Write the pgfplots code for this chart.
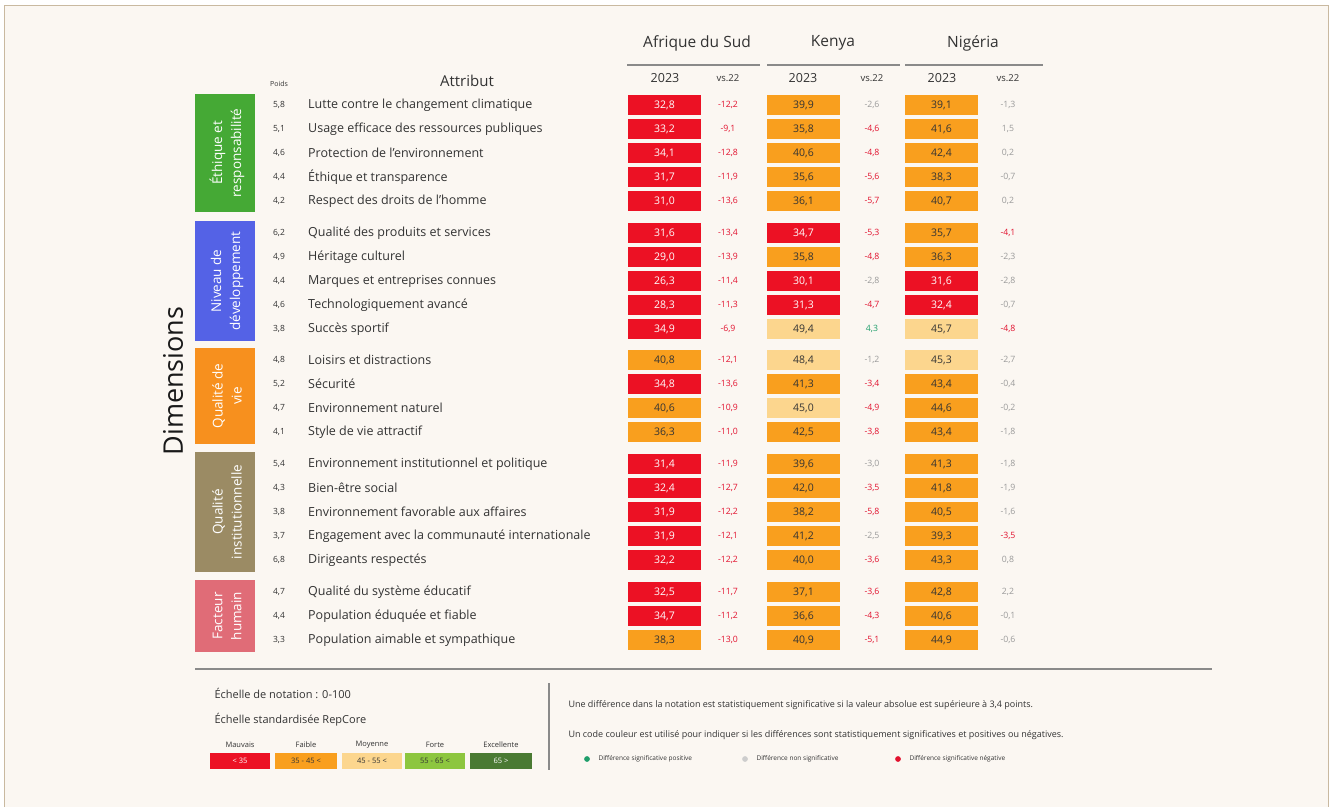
\documentclass[border=0pt]{standalone}
\usepackage{pgfplots}
\pgfplotsset{compat=1.18}
\usepackage{pgfplotstable}
\usepackage{fontspec}
\setmainfont{Open Sans}

\definecolor{bg}{HTML}{FBF7F2}
\definecolor{frame}{HTML}{C9B9A0}
\definecolor{cred}{HTML}{EC1124}
\definecolor{corange}{HTML}{F99F1E}
\definecolor{clight}{HTML}{FCD68E}
\definecolor{cgreen}{HTML}{8DC63F}
\definecolor{cdkgreen}{HTML}{4A7A33}
\definecolor{gEth}{HTML}{45A935}
\definecolor{gNiv}{HTML}{5462E6}
\definecolor{gQual}{HTML}{F7901E}
\definecolor{gInst}{HTML}{9B8B64}
\definecolor{gHum}{HTML}{E06C77}
\definecolor{txt}{HTML}{333333}
\definecolor{negred}{HTML}{E2122F}
\definecolor{posgreen}{HTML}{1F9E6B}
\definecolor{nsgrey}{HTML}{9A9A9A}
\definecolor{rulec}{HTML}{8A8A8A}

% y = row position (px), w = poids, scores and change vs 2022 per country
\pgfplotstableread[col sep=comma]{
y,w,attr,sa,sad,ke,ked,ng,ngd
105,5.8,Lutte contre le changement climatique,32.8,-12.2,39.9,-2.6,39.1,-1.3
129,5.1,Usage efficace des ressources publiques,33.2,-9.1,35.8,-4.6,41.6,1.5
153,4.6,Protection de l'environnement,34.1,-12.8,40.6,-4.8,42.4,0.2
177,4.4,Éthique et transparence,31.7,-11.9,35.6,-5.6,38.3,-0.7
201,4.2,Respect des droits de l'homme,31.0,-13.6,36.1,-5.7,40.7,0.2
233,6.2,Qualité des produits et services,31.6,-13.4,34.7,-5.3,35.7,-4.1
257,4.9,Héritage culturel,29.0,-13.9,35.8,-4.8,36.3,-2.3
281,4.4,Marques et entreprises connues,26.3,-11.4,30.1,-2.8,31.6,-2.8
305,4.6,Technologiquement avancé,28.3,-11.3,31.3,-4.7,32.4,-0.7
329,3.8,Succès sportif,34.9,-6.9,49.4,4.3,45.7,-4.8
360,4.8,Loisirs et distractions,40.8,-12.1,48.4,-1.2,45.3,-2.7
384,5.2,Sécurité,34.8,-13.6,41.3,-3.4,43.4,-0.4
408,4.7,Environnement naturel,40.6,-10.9,45.0,-4.9,44.6,-0.2
432,4.1,Style de vie attractif,36.3,-11.0,42.5,-3.8,43.4,-1.8
464,5.4,Environnement institutionnel et politique,31.4,-11.9,39.6,-3.0,41.3,-1.8
488,4.3,Bien-être social,32.4,-12.7,42.0,-3.5,41.8,-1.9
512,3.8,Environnement favorable aux affaires,31.9,-12.2,38.2,-5.8,40.5,-1.6
536,3.7,Engagement avec la communauté internationale,31.9,-12.1,41.2,-2.5,39.3,-3.5
560,6.8,Dirigeants respectés,32.2,-12.2,40.0,-3.6,43.3,0.8
592,4.7,Qualité du système éducatif,32.5,-11.7,37.1,-3.6,42.8,2.2
616,4.4,Population éduquée et fiable,34.7,-11.2,36.6,-4.3,40.6,-0.1
640,3.3,Population aimable et sympathique,38.3,-13.0,40.9,-5.1,44.9,-0.6
}\data

\pgfplotsset{
  cell/.style={only marks, mark=none,
    nodes near coords={\pgfmathprintnumber[fixed,fixed zerofill,precision=1,use comma,assume math mode=true]{\pgfplotspointmeta}},
    every node near coord/.append style={anchor=center, inner sep=0pt,
      minimum width=73pt, minimum height=20pt, font=\fontsize{10.5}{12}\selectfont}},
  diff/.style={only marks, mark=none,
    nodes near coords={\pgfmathprintnumber[fixed,fixed zerofill,precision=1,use comma,assume math mode=true]{\pgfplotspointmeta}},
    every node near coord/.append style={anchor=center, inner sep=0pt,
      font=\fontsize{8.7}{10}\selectfont}},
}

% score cells by RepCore class, one column
\newcommand\cells[2]{%
  \addplot[cell, every node near coord/.append style={fill=cred, text=white},
    point meta=\thisrow{#1}, restrict expr to domain={\thisrow{#1}}{0:34.95}]
    table[x expr=#2, y=y] {\data};
  \addplot[cell, every node near coord/.append style={fill=corange, text=txt},
    point meta=\thisrow{#1}, restrict expr to domain={\thisrow{#1}}{34.95:44.95}]
    table[x expr=#2, y=y] {\data};
  \addplot[cell, every node near coord/.append style={fill=clight, text=txt},
    point meta=\thisrow{#1}, restrict expr to domain={\thisrow{#1}}{44.95:54.95}]
    table[x expr=#2, y=y] {\data};
}
% change vs 2022, coloured by significance
\newcommand\diffs[2]{%
  \addplot[diff, every node near coord/.append style={text=negred},
    point meta=\thisrow{#1}, restrict expr to domain={\thisrow{#1}}{-100:-3.25}]
    table[x expr=#2, y=y] {\data};
  \addplot[diff, every node near coord/.append style={text=nsgrey},
    point meta=\thisrow{#1}, restrict expr to domain={\thisrow{#1}}{-3.25:3.25}]
    table[x expr=#2, y=y] {\data};
  \addplot[diff, every node near coord/.append style={text=posgreen},
    point meta=\thisrow{#1}, restrict expr to domain={\thisrow{#1}}{3.25:100}]
    table[x expr=#2, y=y] {\data};
}

\begin{document}
\begin{tikzpicture}
\begin{axis}[
    scale only axis,
    width=1331pt, height=807pt,
    xmin=0, xmax=1331, ymin=0, ymax=807,
    y dir=reverse,
    hide axis,
    clip=false,
]
% background and frame
\fill[white] (axis cs:0,0) rectangle (axis cs:1331,807);
\fill[bg] (axis cs:4,6) rectangle (axis cs:1328,807);
\draw[frame, line width=1pt] (axis cs:4,807) -- (axis cs:4,6) -- (axis cs:1328,6) -- (axis cs:1328,807);

% column headers
\node[font=\fontsize{15.5}{17}\selectfont, text=txt] at (axis cs:697,43) {Afrique du Sud};
\node[font=\fontsize{15.5}{17}\selectfont, text=txt] at (axis cs:833,43) {Kenya};
\node[font=\fontsize{15.5}{17}\selectfont, text=txt] at (axis cs:973,43) {Nigéria};
\draw[rulec, line width=1.2pt] (axis cs:627,65) -- (axis cs:760,65);
\draw[rulec, line width=1.2pt] (axis cs:767,65) -- (axis cs:900,65);
\draw[rulec, line width=1.2pt] (axis cs:905,65) -- (axis cs:1043,65);
\node[font=\fontsize{12.5}{14}\selectfont, text=txt] at (axis cs:665,78) {2023};
\node[font=\fontsize{12.5}{14}\selectfont, text=txt] at (axis cs:803,78) {2023};
\node[font=\fontsize{12.5}{14}\selectfont, text=txt] at (axis cs:942,78) {2023};
\node[font=\fontsize{9.5}{11}\selectfont, text=txt] at (axis cs:728,78) {vs.22};
\node[font=\fontsize{9.5}{11}\selectfont, text=txt] at (axis cs:872,78) {vs.22};
\node[font=\fontsize{9.5}{11}\selectfont, text=txt] at (axis cs:1008,78) {vs.22};
\node[font=\fontsize{15}{17}\selectfont, text=txt] at (axis cs:467,81) {Attribut};
\node[font=\fontsize{7}{8}\selectfont, text=txt] at (axis cs:279,84) {Poids};

% dimension boxes
\fill[gEth]  (axis cs:195,94)  rectangle (axis cs:255,212);
\fill[gNiv]  (axis cs:195,221) rectangle (axis cs:255,341);
\fill[gQual] (axis cs:195,348) rectangle (axis cs:255,444);
\fill[gInst] (axis cs:195,452) rectangle (axis cs:255,572);
\fill[gHum]  (axis cs:195,580) rectangle (axis cs:255,652);
\begin{scope}[every node/.style={rotate=90, text=white, align=center,
    font=\fontsize{13.5}{19}\selectfont}]
\node at (axis cs:227,153) {Éthique et\\responsabilité};
\node at (axis cs:227,281) {Niveau de\\développement};
\node at (axis cs:227,396) {Qualité de\\vie};
\node at (axis cs:227,512) {Qualité\\institutionnelle};
\node at (axis cs:227,616) {Facteur\\humain};
\end{scope}
\node[rotate=90, font=\fontsize{27}{29}\selectfont, text=black!90] at (axis cs:173,381) {Dimensions};

% weights and attributes
\addplot[only marks, mark=none, point meta=\thisrow{w},
  nodes near coords={\pgfmathprintnumber[fixed,fixed zerofill,precision=1,use comma,assume math mode=true]{\pgfplotspointmeta}},
  every node near coord/.append style={anchor=center, text=txt, font=\fontsize{8.5}{10}\selectfont}]
  table[x expr=279, y=y] {\data};
\addplot[only marks, mark=none, point meta=explicit symbolic,
  nodes near coords={\pgfplotspointmeta},
  every node near coord/.append style={anchor=west, inner sep=0pt, text=txt, font=\fontsize{12.5}{14}\selectfont}]
  table[x expr=308, y=y, meta=attr] {\data};

% scores and changes
\cells{sa}{664.5}
\cells{ke}{803.5}
\cells{ng}{941.5}
\diffs{sad}{728}
\diffs{ked}{872}
\diffs{ngd}{1008}

% footer
\draw[rulec, line width=1.2pt] (axis cs:195,669) -- (axis cs:1212,669);
\draw[rulec, line width=1.2pt] (axis cs:549,683) -- (axis cs:549,770);
\node[anchor=west, font=\fontsize{11}{13}\selectfont, text=txt] at (axis cs:211,693) {Échelle de notation : 0-100};
\node[anchor=west, font=\fontsize{11}{13}\selectfont, text=txt] at (axis cs:211,720) {Échelle standardisée RepCore};
\fill[cred]     (axis cs:210,753) rectangle (axis cs:270,769);
\fill[corange]  (axis cs:275,753) rectangle (axis cs:337,769);
\fill[clight]   (axis cs:342,753) rectangle (axis cs:402,769);
\fill[cgreen]   (axis cs:405,753) rectangle (axis cs:465,769);
\fill[cdkgreen] (axis cs:470,753) rectangle (axis cs:532,769);
\begin{scope}[every node/.style={font=\fontsize{7.5}{9}\selectfont, inner sep=0pt}]
\node[text=white] at (axis cs:240,761) {< 35};
\node[text=txt]   at (axis cs:306,761) {35 - 45 <};
\node[text=txt]   at (axis cs:372,761) {45 - 55 <};
\node[text=txt]   at (axis cs:435,761) {55 - 65 <};
\node[text=white] at (axis cs:501,761) {65 >};
\node[text=txt] at (axis cs:240,745) {Mauvais};
\node[text=txt] at (axis cs:306,745) {Faible};
\node[text=txt] at (axis cs:372,745) {Moyenne};
\node[text=txt] at (axis cs:435,745) {Forte};
\node[text=txt] at (axis cs:501,745) {Excellente};
\end{scope}
\node[anchor=west, font=\fontsize{9}{11}\selectfont, text=txt] at (axis cs:565,705)
  {Une différence dans la notation est statistiquement significative si la valeur absolue est supérieure à 3,4 points.};
\node[anchor=west, font=\fontsize{9}{11}\selectfont, text=txt] at (axis cs:565,735)
  {Un code couleur est utilisé pour indiquer si les différences sont statistiquement significatives et positives ou négatives.};
\addplot[only marks, mark=*, mark size=2.6pt, posgreen] coordinates {(587,759)};
\addplot[only marks, mark=*, mark size=2.6pt, nsgrey!50] coordinates {(745,759)};
\addplot[only marks, mark=*, mark size=2.6pt, negred] coordinates {(898,759)};
\node[anchor=west, font=\fontsize{6.5}{8}\selectfont, text=txt] at (axis cs:595,759) {Différence significative positive};
\node[anchor=west, font=\fontsize{6.5}{8}\selectfont, text=txt] at (axis cs:753,759) {Différence non significative};
\node[anchor=west, font=\fontsize{6.5}{8}\selectfont, text=txt] at (axis cs:906,759) {Différence significative négative};
\end{axis}
\end{tikzpicture}
\end{document}
